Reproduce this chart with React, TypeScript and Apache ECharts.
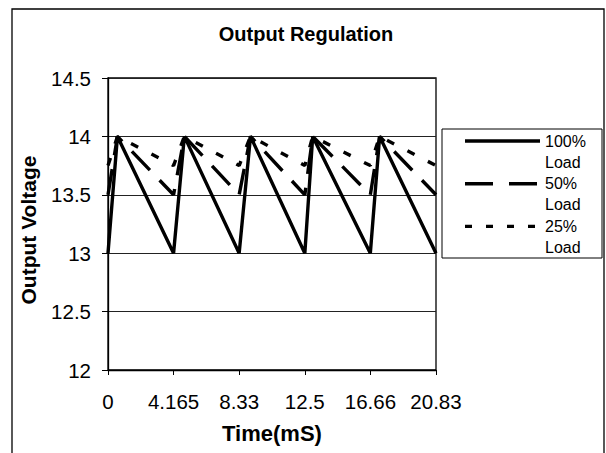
import React, { useEffect, useRef } from "react";
import * as echarts from "echarts";

// ---- data ----
const timeLabels = ["0", "4.165", "8.33", "12.5", "16.66", "20.83"];
const sampleTimes = [0, 0.6, 4.165, 4.85, 8.33, 9.05, 12.5, 13.0, 16.66, 17.25, 20.83];
const load100 = [13, 14, 13, 14, 13, 14, 13, 14, 13, 14, 13];
const load50 = [13.5, 14, 13.5, 14, 13.5, 14, 13.5, 14, 13.5, 14, 13.5];
const load25 = [13.75, 14, 13.75, 14, 13.75, 14, 13.75, 14, 13.75, 14, 13.75];
const seriesNames = ["100% Load", "50% Load", "25% Load"];
const yTicks = [12, 12.5, 13, 13.5, 14, 14.5];

const FONT = "'Liberation Sans', Arial, sans-serif";
const X_MAX = 20.83;
const X_STEP = 4.166;

const seriesValues = [load100, load50, load25];
const dashes: (string | number[])[] = ["solid", [26, 14], [8, 15]];
const legendDashes: (number[] | null)[] = [null, [28, 16], [7, 14]];

export default function App() {
  const ref = useRef<HTMLDivElement>(null);

  useEffect(() => {
    if (!ref.current) return;
    const chart = echarts.init(ref.current, null, { renderer: "svg" });

    const series = seriesNames.map((name, i) => ({
      name,
      type: "line",
      data: sampleTimes.map((t, k) => [t, seriesValues[i][k]]),
      symbol: "none",
      z: 10 - i,
      lineStyle: { color: "#000", width: 3.4, type: dashes[i] as any },
    }));

    const legendRowY = [141, 183.7, 226.4];
    const legendGraphics: any[] = [
      {
        type: "rect",
        shape: { x: 442, y: 129, width: 160, height: 129 },
        style: { fill: "#fff", stroke: "#000", lineWidth: 1 },
        z: 20,
      },
    ];
    seriesNames.forEach((name, i) => {
      const y = legendRowY[i];
      legendGraphics.push({
        type: "line",
        shape: { x1: 465, y1: y, x2: 540, y2: y },
        style: {
          stroke: "#000",
          lineWidth: 3.4,
          lineDash: legendDashes[i] || undefined,
        },
        z: 21,
      });
      legendGraphics.push({
        type: "text",
        x: 545,
        y: y - 10.5,
        style: {
          text: name.replace(" ", "\n"),
          font: `16px ${FONT}`,
          fill: "#000",
          lineHeight: 21,
          verticalAlign: "top",
          align: "left",
        },
        z: 21,
      });
    });

    chart.setOption({
      animation: false,
      backgroundColor: "#fff",
      title: {
        text: "Output Regulation",
        left: 306,
        textAlign: "center",
        top: 24,
        padding: 0,
        textStyle: { fontFamily: FONT, fontSize: 20, fontWeight: "bold", color: "#000" },
      },
      grid: {
        left: 108,
        right: 170,
        top: 78,
        bottom: 83,
        show: true,
        borderColor: "#000",
        borderWidth: 1.3,
        backgroundColor: "transparent",
      },
      xAxis: {
        type: "value",
        min: 0,
        max: X_MAX,
        interval: X_STEP,
        name: "Time(mS)",
        nameLocation: "middle",
        nameGap: 52,
        nameTextStyle: { fontFamily: FONT, fontSize: 22, fontWeight: "bold", color: "#000" },
        axisLine: { show: true, lineStyle: { color: "#000", width: 1.3 } },
        axisTick: { show: true, length: 5, lineStyle: { color: "#000", width: 1 } },
        axisLabel: {
          margin: 21,
          fontFamily: FONT,
          fontSize: 20.5,
          color: "#000",
          showMinLabel: true,
          showMaxLabel: true,
          formatter: (v: number) => timeLabels[Math.round(v / X_STEP)] ?? "",
        },
        splitLine: { show: false },
      },
      yAxis: {
        type: "value",
        min: yTicks[0],
        max: yTicks[yTicks.length - 1],
        interval: 0.5,
        name: "Output Voltage",
        nameLocation: "middle",
        nameGap: 69,
        nameTextStyle: {
          fontFamily: FONT,
          fontSize: 21,
          fontWeight: "bold",
          color: "#000",
          padding: [0, 12, 0, 0],
        },
        axisLine: { show: true, lineStyle: { color: "#000", width: 1.3 } },
        axisTick: { show: true, length: 6, lineStyle: { color: "#000", width: 1 } },
        axisLabel: {
          margin: 17,
          fontFamily: FONT,
          fontSize: 20.5,
          color: "#000",
          formatter: (v: number) => String(v),
        },
        splitLine: { show: true, lineStyle: { color: "#222", width: 1 } },
      },
      graphic: [
        {
          type: "rect",
          shape: { x: 12, y: 9, width: 592, height: 470 },
          style: { fill: "none", stroke: "#000", lineWidth: 1.3 },
          silent: true,
          z: 0,
        },
        ...legendGraphics,
      ],
      series,
    });

    return () => chart.dispose();
  }, []);

  return (
    <div
      ref={ref}
      style={{ position: "fixed", left: 0, top: 0, width: 606, height: 453, background: "#fff" }}
    />
  );
}
